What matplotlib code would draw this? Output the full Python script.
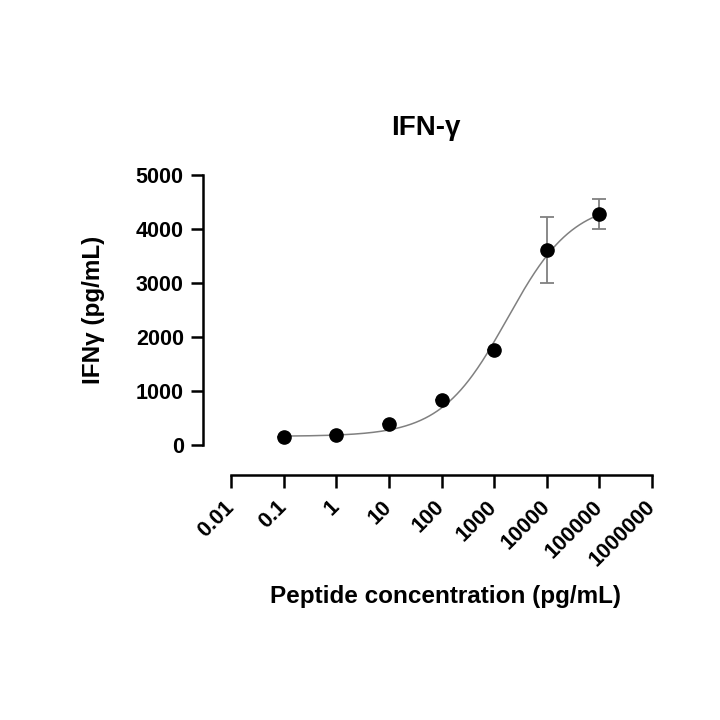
import numpy as np
import matplotlib
matplotlib.use("Agg")
import matplotlib.pyplot as plt

plt.rcParams['font.family'] = ['Liberation Sans', 'DejaVu Sans']
plt.rcParams['font.weight'] = 'bold'

conc = [0.1, 1, 10, 100, 1000, 10000, 100000]
ifng = [155, 190, 385, 830, 1755, 3610, 4275]
err = [0, 0, 0, 0, 0, 605, 275]
xticks = [0.01, 0.1, 1, 10, 100, 1000, 10000, 100000, 1000000]
xticklabels = ["0.01", "0.1", "1", "10", "100", "1000", "10000", "100000", "1000000"]
yticks = [0, 1000, 2000, 3000, 4000, 5000]

# 4-parameter logistic fit parameters
fit_bottom, fit_top, fit_logec50, fit_hill = 160, 4520, 3.25, 0.69

xs = np.logspace(np.log10(conc[0]), np.log10(conc[-1]), 400)
ys = fit_bottom + (fit_top - fit_bottom) / (1 + 10 ** ((fit_logec50 - np.log10(xs)) * fit_hill))

fig = plt.figure(figsize=(7.2, 7.2), dpi=100)
ax = fig.add_axes([231/720, (720-445)/720, (652-231)/720, (445-175)/720])
ax.plot(xs, ys, color='#808080', lw=1.1, zorder=2)
ax.errorbar(conc, ifng, yerr=err, fmt='none', ecolor='#808080', elinewidth=1.3,
            capsize=5, capthick=1.3, zorder=3, clip_on=False)
ax.plot(conc, ifng, 'o', color='black', ms=9.5, zorder=4, clip_on=False)

ax.set_xscale('log')
ax.set_xlim(0.01, 1e6)
ax.set_ylim(0, 5000)
ax.minorticks_off()
for s in ['top', 'right']:
    ax.spines[s].set_visible(False)
ax.spines['left'].set_position(('outward', 20))
ax.spines['bottom'].set_position(('outward', 21.5))
for s in ['left', 'bottom']:
    ax.spines[s].set_linewidth(1.8)
ax.tick_params(axis='both', width=1.8, length=9, direction='out')
ax.tick_params(axis='x', pad=12)
ax.tick_params(axis='y', pad=5)

ax.set_xticks(xticks)
ax.set_xticklabels(xticklabels)
ax.set_yticks(yticks)
ax.set_yticklabels([str(v) for v in yticks])
for lab in ax.get_xticklabels():
    lab.set_rotation(45)
    lab.set_ha('right')
    lab.set_va('center')
    lab.set_rotation_mode('anchor')
    lab.set_fontsize(15.5)
    lab.set_fontweight('bold')
for lab in ax.get_yticklabels():
    lab.set_fontsize(15.5)
    lab.set_fontweight('bold')

fig.text(426/720, (720-128)/720, 'IFN-γ', fontsize=20, fontweight='bold',
         ha='center', va='center')
fig.text(93/720, (720-310)/720, 'IFNγ (pg/mL)', fontsize=17.5, fontweight='bold',
         ha='center', va='center', rotation=90)
fig.text(445/720, (720-596)/720, 'Peptide concentration (pg/mL)', fontsize=17.5,
         fontweight='bold', ha='center', va='center')

fig.savefig('out.png', dpi=100, facecolor='white')
